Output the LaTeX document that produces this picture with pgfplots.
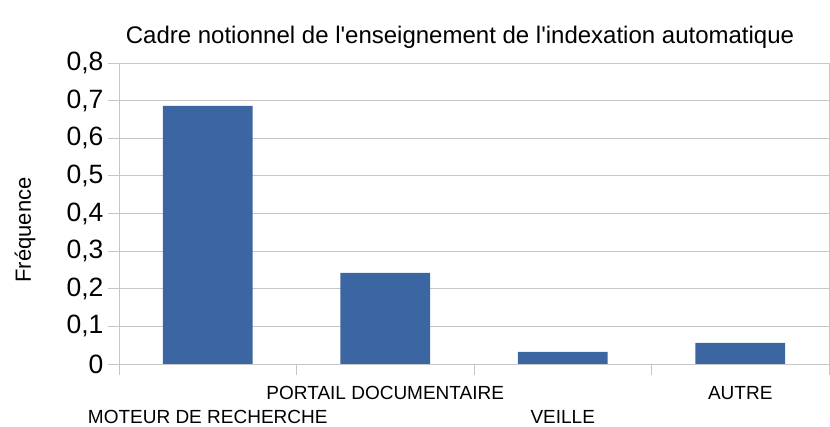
\documentclass[border=0pt]{standalone}
\usepackage{pgfplots}
\pgfplotsset{compat=1.18}
\usepackage{fontspec}
\setmainfont{Liberation Sans}
\definecolor{barblue}{HTML}{3B66A1}
\definecolor{gridgray}{HTML}{C6C6C6}
\begin{document}
\begin{tikzpicture}
\begin{axis}[
  scale only axis,
  width=710pt, height=301pt,
  xmin=-0.5, xmax=3.5, ymin=0, ymax=0.8,
  ytick={0,0.1,...,0.8},
  /pgf/number format/.cd, use comma, fixed, precision=1, assume math mode=true,
  /pgfplots/.cd,
  yticklabel style={font=\fontsize{26.5}{30}\selectfont, xshift=-1pt},
  ymajorgrids, grid style={gridgray, line width=0.9pt},
  axis line style={gridgray, line width=0.9pt},
  tick style={gridgray, line width=0.9pt},
  major tick length=11pt,
  tick align=outside,
  xtick pos=bottom, ytick pos=left,
  xtick={-0.5,0.5,1.5,2.5,3.5},
  xticklabels={},
  clip=false,
]
\addplot[ybar, bar width=0.505, fill=barblue, draw=none] coordinates {(0,0.686) (1,0.242) (2,0.032) (3,0.056)};
\coordinate (LL) at (rel axis cs:0,0);
\coordinate (UR) at (rel axis cs:1,1);
\node[font=\fontsize{24}{28}\selectfont, anchor=base] at (rel axis cs:0,1) [xshift=341pt, yshift=19pt] {Cadre notionnel de l\textquotesingle enseignement de l\textquotesingle indexation automatique};
\node[font=\fontsize{22}{26}\selectfont, rotate=90, anchor=center] at (rel axis cs:-0.1324,0.445) {Fréquence};
\node[font=\fontsize{19}{22}\selectfont, anchor=base] at (axis cs:0,0) [yshift=-60pt] {MOTEUR DE RECHERCHE};
\node[font=\fontsize{19}{22}\selectfont, anchor=base] at (axis cs:1,0) [yshift=-36pt] {PORTAIL DOCUMENTAIRE};
\node[font=\fontsize{19}{22}\selectfont, anchor=base] at (axis cs:2,0) [yshift=-60pt] {VEILLE};
\node[font=\fontsize{19}{22}\selectfont, anchor=base] at (axis cs:3,0) [yshift=-36pt] {AUTRE};
\end{axis}
\pgfresetboundingbox
\path (LL) ++(-119pt,-63pt) coordinate (BL);
\path (UR) ++(1pt,63pt) coordinate (TR);
\path[use as bounding box] (BL) rectangle (TR);
\end{tikzpicture}
\end{document}
